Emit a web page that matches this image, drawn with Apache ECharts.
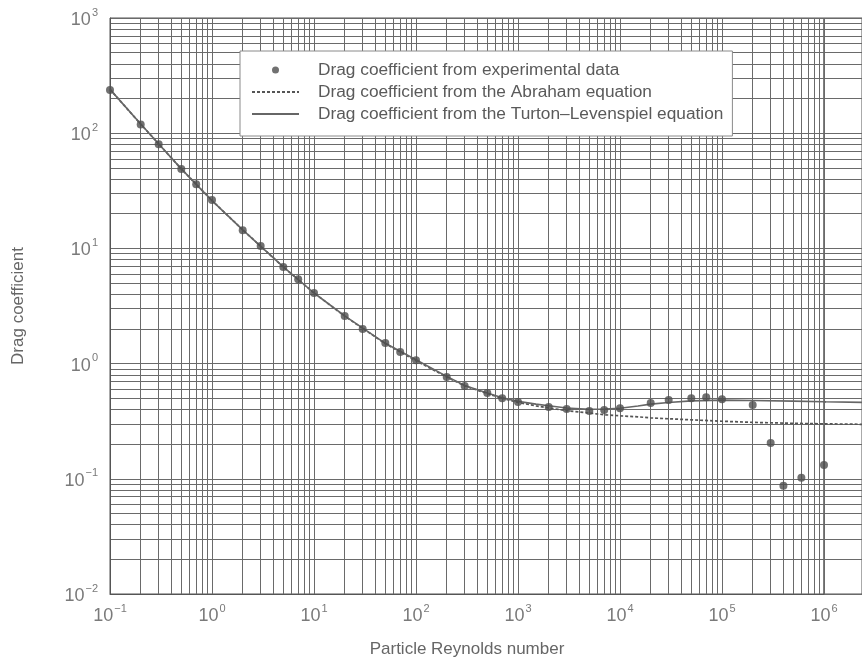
<!DOCTYPE html>
<html>
<head>
<meta charset="utf-8">
<script src="https://cdn.jsdelivr.net/npm/echarts@6/dist/echarts.min.js"></script>
<style>
  html, body { margin: 0; padding: 0; background: #fff; }
  #chart { width: 862px; height: 666px; }
</style>
</head>
<body>
<div id="chart"></div>
<script>
// experimental points (Re, Cd)
var expRe = [0.1, 0.2, 0.3, 0.5, 0.7, 1, 2, 3, 5, 7, 10, 20, 30, 50, 70, 100, 200, 300, 500, 700,
  1000, 2000, 3000, 5000, 7000, 1e4, 2e4, 3e4, 5e4, 7e4, 1e5, 2e5, 3e5, 4e5, 6e5, 1e6];
var expCd = [237, 119, 80, 49, 36, 26.3, 14.4, 10.5, 6.9, 5.4, 4.1, 2.59, 2.0, 1.51, 1.26, 1.07, 0.765, 0.64, 0.556, 0.50,
  0.464, 0.42, 0.404, 0.388, 0.396, 0.41, 0.455, 0.483, 0.50, 0.51, 0.49, 0.438, 0.205, 0.087, 0.102, 0.132];

// curves, sampled along the drawn lines
var curveRe = [0.1, 0.2, 0.5, 1, 2, 5, 10, 20, 50, 100, 200, 300, 500, 700, 1000, 1500, 2000, 3000, 5000, 7000,
  1e4, 1.5e4, 2e4, 3e4, 5e4, 1e5, 2e5, 5e5, 1e6, 2.5e6];
var abrahamCd = [240, 120, 49, 26, 14.5, 6.9, 4.1, 2.58, 1.49, 1.06, 0.765, 0.64, 0.55, 0.5, 0.46, 0.43, 0.412, 0.39, 0.372, 0.36,
  0.352, 0.345, 0.338, 0.332, 0.325, 0.316, 0.309, 0.303, 0.3, 0.297];
var turtonCd = [240, 120, 49, 26, 14.5, 6.9, 4.1, 2.6, 1.5, 1.08, 0.775, 0.645, 0.556, 0.505, 0.47, 0.445, 0.43, 0.412, 0.402, 0.404,
  0.41, 0.428, 0.445, 0.46, 0.475, 0.482, 0.478, 0.472, 0.466, 0.46];

var legendNames = [
  'Drag coefficient from experimental data',
  'Drag coefficient from the Abraham equation',
  'Drag coefficient from the Turton\u2013Levenspiel equation'
];

function pair(xs, ys) {
  return xs.map(function (x, i) { return [x, ys[i]]; });
}

var FONT = 'Liberation Sans';
var GRID_COLOR = '#6a6a6a';

function powLabel(v) {
  var e = Math.round(Math.log10(v));
  if (Math.abs(Math.log10(v) - e) > 1e-6) return '';
  return '{b|10}{e|' + (e < 0 ? '\u2212' + (-e) : e) + '}';
}

var labelRich = {
  b: { fontSize: 18, fontFamily: FONT, color: '#7a7a7a', lineHeight: 22, verticalAlign: 'bottom' },
  e: { fontSize: 11, fontFamily: FONT, color: '#7a7a7a', lineHeight: 11, verticalAlign: 'top', padding: [0, 0, 0, 1] }
};

var logLines = {
  splitLine: { show: true, lineStyle: { color: GRID_COLOR, width: 1 } },
  minorTick: { show: false, splitNumber: 9 },
  minorSplitLine: { show: true, lineStyle: { color: GRID_COLOR, width: 1 } }
};

var chart = echarts.init(document.getElementById('chart'));

var lineStyleA = { color: '#555', width: 1.7, type: [3, 2] };
var lineStyleT = { color: '#666', width: 1.6 };

chart.setOption({
  animation: false,
  backgroundColor: '#fff',
  textStyle: { fontFamily: FONT },
  grid: [
    { left: 110, top: 18, width: 714, height: 576, show: true, borderColor: '#555', borderWidth: 1 },
    // strip right of 10^6 up to the page edge: horizontal rules only
    { left: 824, top: 18, width: 38, height: 576, show: true, borderColor: '#555', borderWidth: 1 }
  ],
  legend: {
    left: 240, top: 51,
    orient: 'vertical',
    backgroundColor: '#fff',
    borderColor: '#8a8a8a', borderWidth: 1, borderRadius: 0,
    padding: [10, 9, 13, 11],
    itemGap: 4, itemWidth: 47, itemHeight: 7,
    textStyle: { fontSize: 17.3, lineHeight: 18, color: '#5a5a5a', fontFamily: FONT, padding: [0, 0, 0, 14] },
    data: [
      { name: legendNames[0] },
      { name: legendNames[1], itemStyle: { opacity: 0 } },
      { name: legendNames[2], itemStyle: { opacity: 0 } }
    ]
  },
  xAxis: [
    Object.assign({
      type: 'log', logBase: 10, min: 0.1, max: 1e6, gridIndex: 0, splitNumber: 7,
      name: 'Particle Reynolds number', nameLocation: 'middle', nameGap: 47,
      nameTextStyle: { fontSize: 17, color: '#666', fontFamily: FONT },
      axisLine: { show: true, lineStyle: { color: '#555' } },
      axisTick: { show: false },
      axisLabel: { margin: 9, formatter: powLabel, rich: labelRich }
    }, logLines),
    {
      type: 'log', logBase: 10, min: 1e6, max: 2.357e6, gridIndex: 1,
      axisLine: { show: false }, axisTick: { show: false }, axisLabel: { show: false },
      splitLine: { show: false }
    }
  ],
  yAxis: [
    Object.assign({
      type: 'log', logBase: 10, min: 0.01, max: 1000, gridIndex: 0, splitNumber: 5,
      name: 'Drag coefficient', nameLocation: 'middle', nameGap: 83,
      nameTextStyle: { fontSize: 17, color: '#666', fontFamily: FONT },
      axisLine: { show: true, lineStyle: { color: '#555' } },
      axisTick: { show: false },
      axisLabel: { margin: 12, formatter: powLabel, rich: labelRich }
    }, logLines),
    Object.assign({
      type: 'log', logBase: 10, min: 0.01, max: 1000, gridIndex: 1, splitNumber: 5,
      axisLine: { show: false }, axisTick: { show: false }, axisLabel: { show: false }
    }, logLines)
  ],
  series: [
    {
      name: legendNames[1], type: 'line', xAxisIndex: 0, yAxisIndex: 0,
      data: pair(curveRe, abrahamCd), symbol: 'none',
      lineStyle: lineStyleA, itemStyle: { color: '#555' }, z: 3
    },
    {
      name: legendNames[2], type: 'line', xAxisIndex: 0, yAxisIndex: 0,
      data: pair(curveRe, turtonCd), symbol: 'none',
      lineStyle: lineStyleT, itemStyle: { color: '#666' }, z: 3
    },
    {
      name: legendNames[1], type: 'line', xAxisIndex: 1, yAxisIndex: 1,
      data: pair(curveRe, abrahamCd), symbol: 'none',
      lineStyle: lineStyleA, itemStyle: { color: '#555' }, z: 3
    },
    {
      name: legendNames[2], type: 'line', xAxisIndex: 1, yAxisIndex: 1,
      data: pair(curveRe, turtonCd), symbol: 'none',
      lineStyle: lineStyleT, itemStyle: { color: '#666' }, z: 3
    },
    {
      name: legendNames[0], type: 'scatter', xAxisIndex: 0, yAxisIndex: 0,
      data: pair(expRe, expCd), symbol: 'circle', symbolSize: 8,
      itemStyle: { color: '#4e4e4e' }, z: 5
    }
  ]
});
</script>
</body>
</html>
